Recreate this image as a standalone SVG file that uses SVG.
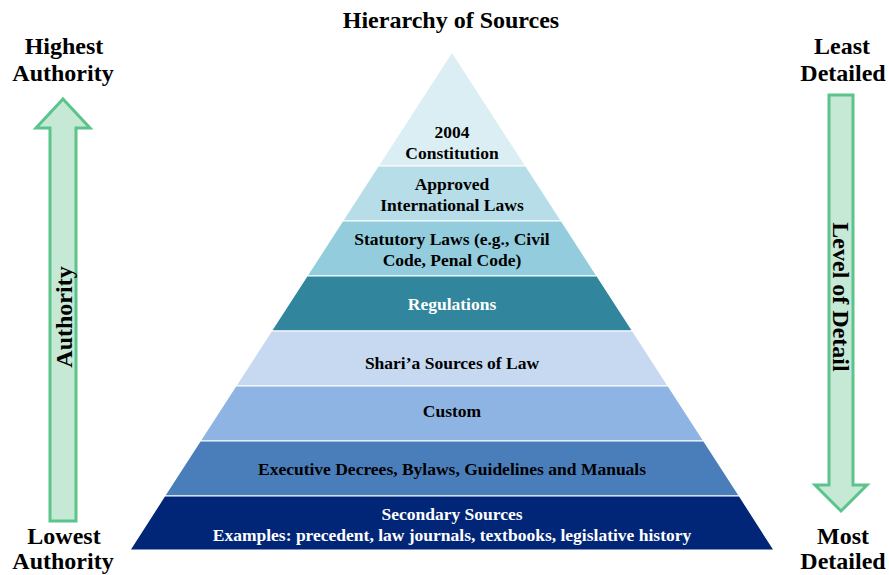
<svg xmlns="http://www.w3.org/2000/svg" width="889" height="575" viewBox="0 0 889 575">
<style>
text{font-family:"Liberation Serif","Times New Roman",serif;font-weight:bold;text-anchor:middle;fill:#000}
.big{font-size:24px}
.band{font-size:17.5px}
.w{fill:#fff}
.arrow{fill:#c6e9d6;stroke:#5cc38a;stroke-width:3;stroke-linejoin:miter}
.seg{stroke:#fff;stroke-width:1.2;stroke-linejoin:round}
</style>
<rect width="889" height="575" fill="#fff"/>
<text class="big" x="451" y="28">Hierarchy of Sources</text>
<g id="left-labels">
<text class="big" x="64" y="54">Highest</text>
<text class="big" x="63" y="81">Authority</text>
<text class="big" x="64" y="544">Lowest</text>
<text class="big" x="63" y="569">Authority</text>
</g>
<g id="right-labels">
<text class="big" x="842" y="54">Least</text>
<text class="big" x="843" y="81">Detailed</text>
<text class="big" x="843" y="544">Most</text>
<text class="big" x="843" y="569">Detailed</text>
</g>
<g id="authority-arrow">
<polygon class="arrow" points="63,99 90,128 76,128 76,521 50,521 50,128 36,128"/>
<text class="big" transform="translate(72,317) rotate(-90)">Authority</text>
</g>
<g id="detail-arrow">
<polygon class="arrow" points="829,95 853,95 853,485 867,485 841,511 815,485 829,485"/>
<text class="big" transform="translate(833,297) rotate(90)">Level of Detail</text>
</g>
<g id="band1">
<polygon class="seg" fill="#dbeef4" points="452,52 378.2,166 525.8,166"/>
<text class="band" x="452" y="138">2004</text>
<text class="band" x="452" y="159">Constitution</text>
</g>
<g id="band2">
<polygon class="seg" fill="#b7dde8" points="378.2,166 525.8,166 561.4,221 342.6,221"/>
<text class="band" x="452" y="190">Approved</text>
<text class="band" x="452" y="211">International Laws</text>
</g>
<g id="band3">
<polygon class="seg" fill="#93cddd" points="342.6,221 561.4,221 597,276 307,276"/>
<text class="band" x="452" y="245">Statutory Laws (e.g., Civil</text>
<text class="band" x="452" y="266">Code, Penal Code)</text>
</g>
<g id="band4">
<polygon class="seg" fill="#31859c" points="307,276 597,276 632.6,331 271.4,331"/>
<text class="band w" x="452" y="310">Regulations</text>
</g>
<g id="band5">
<polygon class="seg" fill="#c6d9f1" points="271.4,331 632.6,331 668.2,386 235.8,386"/>
<text class="band" x="452" y="369">Shari’a Sources of Law</text>
</g>
<g id="band6">
<polygon class="seg" fill="#8eb4e3" points="235.8,386 668.2,386 703.8,441 200.2,441"/>
<text class="band" x="452" y="417">Custom</text>
</g>
<g id="band7">
<polygon class="seg" fill="#4a7ebb" points="200.2,441 703.8,441 739.4,496 164.6,496"/>
<text class="band" x="452" y="475">Executive Decrees, Bylaws, Guidelines and Manuals</text>
</g>
<g id="band8">
<polygon class="seg" fill="#022677" points="164.6,496 739.4,496 774,550 130,550"/>
<text class="band w" x="452" y="520">Secondary Sources</text>
<text class="band w" x="452" y="541">Examples: precedent, law journals, textbooks, legislative history</text>
</g>
</svg>
